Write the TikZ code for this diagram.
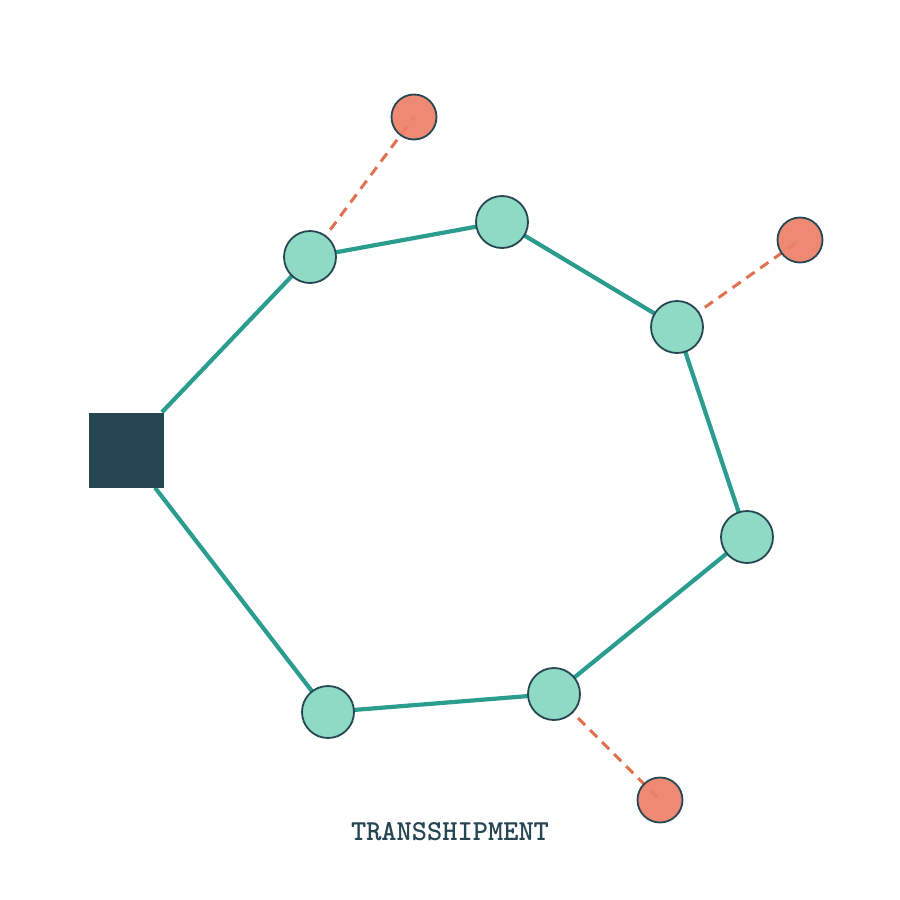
\documentclass[tikz,border=0pt]{standalone}
\usepackage{tikz}
\definecolor{dark}{HTML}{264653}
\definecolor{teal}{HTML}{2A9D8F}
\definecolor{mint}{HTML}{8FDAC5}
\definecolor{coral}{HTML}{ED8068}
\definecolor{dashc}{HTML}{E07050}
\tikzset{
  depot/.style={rectangle, fill=dark, minimum size=75pt, inner sep=0pt},
  cust/.style={circle, fill=mint, draw=dark, line width=1.8pt, minimum size=52pt, inner sep=0pt},
  sat/.style={circle, fill=coral, draw=dark, line width=1.8pt, minimum size=45pt, inner sep=0pt, fill opacity=0.92},
  route/.style={draw=teal, line width=4.2pt},
  spur/.style={draw=dashc, line width=3pt, dash pattern=on 10pt off 7pt},
}
\begin{document}
\begin{tikzpicture}[x=1pt,y=-1pt]
\useasboundingbox (0,0) rectangle (900,900);
\node[depot] (d) at (126,450) {};
\coordinate (g1) at (310,257);
\coordinate (g2) at (502,222);
\coordinate (g3) at (677,327);
\coordinate (g4) at (747,537);
\coordinate (g5) at (554,694);
\coordinate (g6) at (328,712);
\coordinate (r1) at (414,117);
\coordinate (r2) at (800,240);
\coordinate (r3) at (660,800);
\draw[route] (d) -- (g1) -- (g2) -- (g3) -- (g4) -- (g5) -- (g6) -- (d);
\draw[spur] (g1) -- (r1);
\draw[spur] (g3) -- (r2);
\draw[spur] (g5) -- (r3);
\node[depot] at (d) {};
\foreach \g in {g1,g2,g3,g4,g5,g6} \node[cust] (n\g) at (\g) {};
\foreach \r in {r1,r2,r3} \node[sat] (n\r) at (\r) {};
\node[text=dark, font=\ttfamily\bfseries\fontsize{29}{31}\selectfont] (lbl) at (450,832) {TRANSSHIPMENT};
\end{tikzpicture}
\end{document}
